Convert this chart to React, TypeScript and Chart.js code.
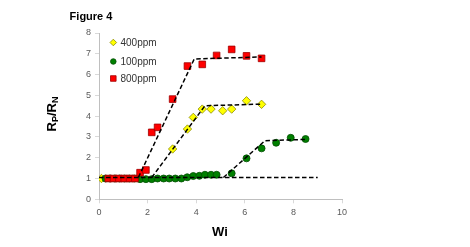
import React, { useEffect, useRef } from "react";
import { Chart, registerables } from "chart.js";

Chart.register(...registerables);

const redX = [0.38, 0.6, 0.82, 1.04, 1.26, 1.48, 1.69, 1.93, 2.17, 2.41, 3.03, 3.64, 4.25, 4.84, 5.46, 6.07, 6.69];
const redY = [1, 1, 1, 1, 1, 1, 1.28, 1.41, 3.22, 3.46, 4.82, 6.41, 6.49, 6.92, 7.21, 6.9, 6.78];

const yellowX = [0.1, 3.03, 3.64, 3.88, 4.25, 4.61, 5.09, 5.46, 6.07, 6.69];
const yellowY = [1, 2.42, 3.38, 3.94, 4.34, 4.34, 4.26, 4.34, 4.74, 4.57];

const greenX = [0.27, 0.45, 0.65, 0.85, 1.05, 1.25, 1.45, 1.69, 1.93, 2.17, 2.41, 2.66, 2.89, 3.14, 3.39, 3.63, 3.88, 4.13, 4.36, 4.61, 4.84, 5.46, 6.07, 6.69, 7.29, 7.89, 8.5];
const greenY = [1, 1, 1, 1, 1, 1, 1, 0.97, 0.97, 0.97, 1, 1, 1, 1, 1, 1.06, 1.12, 1.13, 1.18, 1.18, 1.18, 1.25, 1.97, 2.45, 2.72, 2.96, 2.9];

const trendRedX = [1.62, 3.92, 6.69];
const trendRedY = [1.05, 6.75, 6.85];
const trendYellowX = [2.17, 4.36, 6.69];
const trendYellowY = [1.05, 4.5, 4.58];
const trendGreenX = [5.12, 6.83, 8.5];
const trendGreenY = [1.05, 2.82, 2.88];
const baselineX = [0, 9];
const baselineY = [1.05, 1.05];

const legendLabels = ["400ppm", "100ppm", "800ppm"];
const chartTitle = "Figure 4";
const xTitle = "Wi";

const pts = (xs: number[], ys: number[]) => xs.map((x, i) => ({ x, y: ys[i] }));

const trend = (xs: number[], ys: number[]) => ({
  data: pts(xs, ys),
  showLine: true,
  borderColor: "#000000",
  borderWidth: 1.5,
  borderDash: [4.5, 2.5],
  pointRadius: 0,
  fill: false,
  order: 0,
});

const textPlugin = {
  id: "texts",
  afterDraw(chart: any) {
    const ctx = chart.ctx as CanvasRenderingContext2D;
    const ff = "'Liberation Sans', Arial, sans-serif";
    ctx.save();
    ctx.fillStyle = "#000000";
    ctx.font = `bold 11px ${ff}`;
    ctx.textAlign = "center";
    ctx.textBaseline = "middle";
    ctx.fillText(chartTitle, 91, 17);
    ctx.font = `bold 13px ${ff}`;
    ctx.fillText(xTitle, 220, 232);
    ctx.save();
    ctx.translate(51, 114);
    ctx.rotate(-Math.PI / 2);
    const parts: [string, boolean][] = [["R", false], ["P", true], ["/R", false], ["N", true]];
    const big = `bold 13px ${ff}`;
    const small = `bold 9px ${ff}`;
    let total = 0;
    for (const [t, sub] of parts) {
      ctx.font = sub ? small : big;
      total += ctx.measureText(t).width;
    }
    let x = -total / 2;
    ctx.textAlign = "left";
    ctx.textBaseline = "alphabetic";
    for (const [t, sub] of parts) {
      ctx.font = sub ? small : big;
      ctx.fillText(t, x, sub ? 7 : 4.5);
      x += ctx.measureText(t).width;
    }
    ctx.restore();
    const rows = [
      { label: legendLabels[0], shape: "diamond", fill: "#FFFF00", stroke: "#8c8c00" },
      { label: legendLabels[1], shape: "circle", fill: "#008000", stroke: "#004d00" },
      { label: legendLabels[2], shape: "square", fill: "#FF0000", stroke: "#a00000" },
    ];
    const ys = [42.5, 61.5, 78.5];
    rows.forEach((r, i) => {
      const cx = 113.3;
      const cy = ys[i];
      ctx.beginPath();
      if (r.shape === "diamond") {
        ctx.moveTo(cx, cy - 3.3);
        ctx.lineTo(cx + 3.3, cy);
        ctx.lineTo(cx, cy + 3.3);
        ctx.lineTo(cx - 3.3, cy);
        ctx.closePath();
      } else if (r.shape === "circle") {
        ctx.arc(cx, cy, 2.8, 0, Math.PI * 2);
      } else {
        ctx.rect(cx - 2.8, cy - 2.8, 5.6, 5.6);
      }
      ctx.fillStyle = r.fill;
      ctx.fill();
      ctx.strokeStyle = r.stroke;
      ctx.lineWidth = 0.8;
      ctx.stroke();
      ctx.fillStyle = "#333333";
      ctx.font = `10px ${ff}`;
      ctx.textAlign = "left";
      ctx.textBaseline = "middle";
      ctx.fillText(r.label, 120.5, cy + 0.5);
    });
    ctx.restore();
  },
};

export default function App() {
  const ref = useRef<HTMLCanvasElement | null>(null);
  useEffect(() => {
    document.body.style.margin = "0";
    const canvas = ref.current;
    if (!canvas) return;
    const chart = new Chart(canvas, {
      type: "scatter",
      data: {
        datasets: [
          trend(trendRedX, trendRedY),
          trend(trendYellowX, trendYellowY),
          trend(trendGreenX, trendGreenY),
          trend(baselineX, baselineY),
          {
            label: legendLabels[2],
            data: pts(redX, redY),
            pointStyle: "rect",
            pointRadius: 4.7,
            backgroundColor: "#FF0000",
            borderColor: "#a00000",
            borderWidth: 0.8,
            order: 1,
          },
          {
            label: legendLabels[1],
            data: pts(greenX, greenY),
            pointStyle: "circle",
            pointRadius: 3.5,
            backgroundColor: "#008000",
            borderColor: "#004d00",
            borderWidth: 0.8,
            order: 2,
          },
          {
            label: legendLabels[0],
            data: pts(yellowX, yellowY),
            pointStyle: "rectRot",
            pointRadius: 4.2,
            backgroundColor: "#FFFF00",
            borderColor: "#8c8c00",
            borderWidth: 0.8,
            order: 3,
          },
        ] as any,
      },
      options: {
        animation: false,
        responsive: false,
        events: [],
        layout: { padding: { left: 0, top: 33, right: 128, bottom: 17.7 } },
        plugins: { legend: { display: false }, tooltip: { enabled: false }, title: { display: false } },
        scales: {
          x: {
            type: "linear",
            min: 0,
            max: 10,
            afterFit: (s: any) => { s.height = 30; },
            ticks: { stepSize: 2, font: { size: 9, family: "'Liberation Sans', Arial, sans-serif" }, color: "#595959", padding: 4 },
            grid: { drawOnChartArea: false, tickLength: 4, color: "#d9d9d9" },
            border: { color: "#bfbfbf" },
          },
          y: {
            type: "linear",
            min: 0,
            max: 8,
            afterFit: (s: any) => { s.width = 99; },
            ticks: { stepSize: 1, font: { size: 9, family: "'Liberation Sans', Arial, sans-serif" }, color: "#595959", padding: 4 },
            grid: { drawOnChartArea: false, tickLength: 4, color: "#d9d9d9" },
            border: { color: "#bfbfbf" },
          },
        },
      } as any,
      plugins: [textPlugin],
    });
    return () => chart.destroy();
  }, []);
  return (
    <div style={{ width: 470, height: 247, background: "#fff" }}>
      <canvas ref={ref} width={470} height={247} style={{ display: "block" }} />
    </div>
  );
}
